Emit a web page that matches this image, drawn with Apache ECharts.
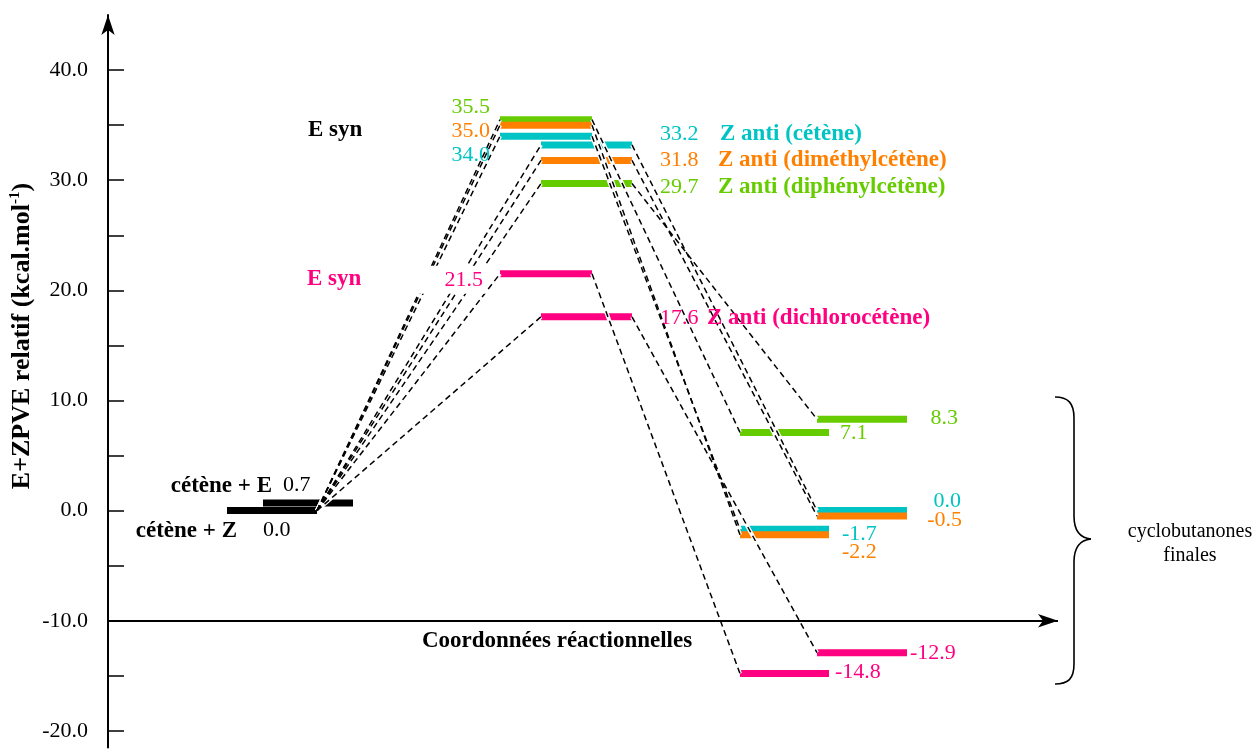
<!DOCTYPE html>
<html>
<head>
<meta charset="utf-8">
<title>Profil énergétique</title>
<script src="https://cdn.jsdelivr.net/npm/echarts@6.0.0/dist/echarts.min.js"></script>
<style>
  html, body { margin: 0; padding: 0; background: #fff; }
  #chart { width: 1253px; height: 749px; }
</style>
</head>
<body>
<div id="chart"></div>
<script>
// cétènes, même ordre dans tous les tableaux d'énergies
const cetenes = ['cétène', 'diméthylcétène', 'diphénylcétène', 'dichlorocétène'];
const reactifs = ['cétène + Z', 'cétène + E'];
const eReactifs = [0.0, 0.7];
const eEsyn = [34.0, 35.0, 35.5, 21.5];     // TS E syn
const eZanti = [33.2, 31.8, 29.7, 17.6];    // TS Z anti
const eProdE = [-1.7, -2.2, 7.1, -14.8];    // cyclobutanones issues de E syn
const eProdZ = [0.0, -0.5, 8.3, -12.9];     // cyclobutanones issues de Z anti
const yTicks = [-20, -15, -10, -5, 0, 5, 10, 15, 20, 25, 30, 35, 40];
const yLabels = [-20, -10, 0, 10, 20, 30, 40];
const eAxeX = -10;

const palette = ['#00c4c4', '#ff8000', '#66cc00', '#ff0080', '#000000'];
const serif = '"Liberation Serif", "Times New Roman", serif';
const fmt = v => v.toFixed(1);

// colonnes de la coordonnée réactionnelle (px depuis l'axe des énergies)
const col = {
  rZ: [119, 209], rE: [155, 245],
  tsE: [392, 484], tsZ: [433, 524],
  pE: [632, 721], pZ: [709, 799]
};

// niveaux : [x0, x1, énergie, couleur]
const bars = [];
bars.push([col.rZ[0], col.rZ[1], eReactifs[0], 4]);
bars.push([col.rE[0], col.rE[1], eReactifs[1], 4]);
[2, 1, 0, 3].forEach(i => bars.push([col.tsE[0], col.tsE[1], eEsyn[i], i]));
[0, 1, 2, 3].forEach(i => bars.push([col.tsZ[0], col.tsZ[1], eZanti[i], i]));
[2, 0, 1, 3].forEach(i => bars.push([col.pE[0], col.pE[1], eProdE[i], i]));
[2, 0, 1, 3].forEach(i => bars.push([col.pZ[0], col.pZ[1], eProdZ[i], i]));

// liaisons pointillées
const start = [col.rZ[1], eReactifs[0]];
const links = [];
for (let i = 0; i < 4; i++) {
  links.push([start, [col.tsE[0], eEsyn[i]]]);
  links.push([[col.tsE[1], eEsyn[i]], [col.pE[0], eProdE[i]]]);
  links.push([start, [col.tsZ[0], eZanti[i]]]);
  links.push([[col.tsZ[1], eZanti[i]], [col.pZ[0], eProdZ[i]]]);
}

// étiquettes (décalages en px par rapport au bout du niveau)
const labels = [];
function lab(t, x, e, dx, dy, align, c, bold, extra) {
  labels.push(Object.assign({ t, x, e, dx, dy, align, c, bold }, extra || {}));
}
lab(reactifs[1], col.rE[0], eReactifs[1], 9, -17, 'right', '#000', true);
lab(fmt(eReactifs[1]), col.rE[0], eReactifs[1], 20, -18, 'left', '#000');
lab(reactifs[0], col.rZ[0], eReactifs[0], 10, 20, 'right', '#000', true);
lab(fmt(eReactifs[0]), col.rZ[0], eReactifs[0], 36, 20, 'left', '#000');

const dyEsyn = [19, 6, -12.6, 6];
const dxEsyn = [-10, -10, -10, -13];
for (let i = 0; i < 4; i++) {
  lab(fmt(eEsyn[i]), col.tsE[0], eEsyn[i], dxEsyn[i], dyEsyn[i], 'right', palette[i], false,
    i === 3 ? { bg: '#fff', pad: [3, 4, 3, 34] } : null);
}
lab('E syn', col.tsE[0], eEsyn[1], -192, 5, 'left', '#000', true);
lab('E syn', col.tsE[0], eEsyn[3], -193, 5, 'left', palette[3], true);

const dyZanti = [-11, 0, 3.5, 1];
const dxNom = [88, 86, 86, 75];
for (let i = 0; i < 4; i++) {
  lab(fmt(eZanti[i]), col.tsZ[1], eZanti[i], 28, dyZanti[i], 'left', palette[i]);
  lab('Z anti (' + cetenes[i] + ')', col.tsZ[1], eZanti[i], dxNom[i], dyZanti[i], 'left', palette[i], true);
}

const labPE = [[13, 5], [13, 17], [11, 1], [6, -1.5]];
const labPZ = [[54, -9, 'right'], [55, 4, 'right'], [51, -1, 'right'], [3, 1, 'left']];
for (let i = 0; i < 4; i++) {
  lab(fmt(eProdE[i]), col.pE[1], eProdE[i], labPE[i][0], labPE[i][1], 'left', palette[i]);
  lab(fmt(eProdZ[i]), col.pZ[1], eProdZ[i], labPZ[i][0], labPZ[i][1], labPZ[i][2], palette[i]);
}

const chart = echarts.init(document.getElementById('chart'));

const brace = { stroke: '#000', lineWidth: 1.6, fill: null };

const option = {
  backgroundColor: '#fff',
  animation: false,
  grid: { left: 108, top: 15, width: 1145, height: 732.4 },
  xAxis: { type: 'value', min: 0, max: 1145, show: false },
  yAxis: {
    type: 'value',
    min: -21.5,
    max: 45,
    axisLine: {
      show: true,
      lineStyle: { color: '#000', width: 2 },
      symbol: ['none', 'arrow'],
      symbolSize: [10, 20]
    },
    axisTick: {
      show: true, inside: true, length: 16,
      customValues: yTicks,
      lineStyle: { color: '#000', width: 1.5 }
    },
    axisLabel: {
      customValues: yLabels,
      formatter: v => fmt(v),
      color: '#000', fontFamily: serif, fontSize: 22, margin: 20
    },
    splitLine: { show: false }
  },
  graphic: [
    {
      type: 'text', x: 22, y: 336, rotation: Math.PI / 2,
      style: {
        text: '{a|E+ZPVE relatif (kcal.mol}{s|-1}{a|)}',
        textAlign: 'center', textVerticalAlign: 'middle',
        rich: {
          a: { fontFamily: serif, fontWeight: 'bold', fontSize: 26, fill: '#000', lineHeight: 28 },
          s: { fontFamily: serif, fontWeight: 'bold', fontSize: 15, fill: '#000', verticalAlign: 'top', lineHeight: 28 }
        }
      }
    },
    {
      type: 'text', x: 557, y: 641,
      style: {
        text: 'Coordonnées réactionnelles', fill: '#000',
        font: 'bold 23px ' + serif, textAlign: 'center', textVerticalAlign: 'middle'
      }
    },
    {
      type: 'text', x: 1190, y: 544,
      style: {
        text: 'cyclobutanones\nfinales', fill: '#000', lineHeight: 24,
        font: '20px ' + serif, textAlign: 'center', textVerticalAlign: 'middle'
      }
    },
    { type: 'bezierCurve', shape: { x1: 1055, y1: 397, cpx1: 1068, cpy1: 397, cpx2: 1074, cpy2: 403, x2: 1074, y2: 418 }, style: brace },
    { type: 'line', shape: { x1: 1074, y1: 418, x2: 1074, y2: 516 }, style: brace },
    { type: 'bezierCurve', shape: { x1: 1074, y1: 516, cpx1: 1074, cpy1: 531, cpx2: 1080, cpy2: 538, x2: 1091, y2: 539 }, style: brace },
    { type: 'bezierCurve', shape: { x1: 1091, y1: 539, cpx1: 1080, cpy1: 540, cpx2: 1074, cpy2: 547, x2: 1074, y2: 562 }, style: brace },
    { type: 'line', shape: { x1: 1074, y1: 562, x2: 1074, y2: 664 }, style: brace },
    { type: 'bezierCurve', shape: { x1: 1074, y1: 664, cpx1: 1074, cpy1: 679, cpx2: 1068, cpy2: 684, x2: 1055, y2: 684 }, style: brace }
  ],
  series: [
    {
      name: 'niveaux',
      type: 'custom',
      z: 2,
      clip: false,
      data: bars,
      encode: { x: [0, 1], y: 2 },
      renderItem: (params, api) => {
        const a = api.coord([api.value(0), api.value(2)]);
        const b = api.coord([api.value(1), api.value(2)]);
        return {
          type: 'rect',
          shape: { x: a[0], y: a[1] - 3.5, width: b[0] - a[0], height: 7 },
          style: { fill: palette[api.value(3)] }
        };
      }
    },
    {
      name: 'halo',
      type: 'lines',
      coordinateSystem: 'cartesian2d',
      z: 3,
      silent: true,
      lineStyle: { color: '#fff', width: 4, opacity: 1 },
      data: links.map(c => ({ coords: c }))
    },
    {
      name: 'liaisons',
      type: 'lines',
      coordinateSystem: 'cartesian2d',
      z: 4,
      lineStyle: { color: '#000', width: 1.5, type: [6, 4], opacity: 1 },
      data: links.map(c => ({ coords: c }))
    },
    {
      name: 'axe x',
      type: 'lines',
      coordinateSystem: 'cartesian2d',
      z: 4,
      symbol: ['none', 'arrow'],
      symbolSize: [0, [10, 20]],
      lineStyle: { color: '#000', width: 1.8, opacity: 1 },
      data: [{ coords: [[0, eAxeX], [950, eAxeX]] }]
    },
    {
      name: 'etiquettes',
      type: 'custom',
      z: 6,
      clip: false,
      data: labels.map(l => [l.x, l.e]),
      encode: { x: 0, y: 1 },
      renderItem: (params, api) => {
        const l = labels[params.dataIndex];
        const p = api.coord([api.value(0), api.value(1)]);
        const style = {
          text: l.t,
          fill: l.c,
          font: (l.bold ? 'bold 23px ' : '22px ') + serif,
          textAlign: l.align,
          textVerticalAlign: 'middle'
        };
        if (l.bg) { style.backgroundColor = l.bg; style.padding = l.pad; }
        return { type: 'text', x: p[0] + l.dx, y: p[1] + l.dy, style };
      }
    }
  ]
};

chart.setOption(option);
window.addEventListener('resize', () => chart.resize());
</script>
</body>
</html>
